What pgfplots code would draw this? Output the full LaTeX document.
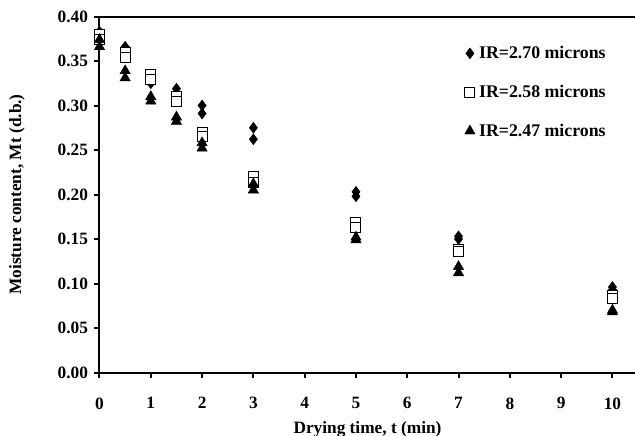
\documentclass[border=0pt]{standalone}
\usepackage{pgfplots}
\pgfplotsset{compat=1.18}
\usepackage{fontspec}
\setmainfont{Liberation Serif}

\newcommand{\chartfont}{\fontsize{17.3bp}{20bp}\selectfont\bfseries}
\newcommand{\legendfont}{\fontsize{17.8bp}{20bp}\selectfont\bfseries}

\begin{document}
\begin{tikzpicture}
  \begin{axis}[
    scale only axis,
    width=536bp,
    height=356bp,
    xmin=0, xmax=10.45,
    ymin=0, ymax=0.40,
    clip=false,
    axis x line*=bottom,
    axis y line*=left,
    axis line style={-, line width=2bp, black},
    xtick={0,1,2,3,4,5,6,7,8,9,10},
    ytick={0,0.05,0.10,0.15,0.20,0.25,0.30,0.35,0.40},
    tick align=outside,
    major tick length=5bp,
    tick style={line width=2bp, black},
    /pgf/number format/assume math mode=true,
    ticklabel style={font=\chartfont},
    xticklabel style={yshift=-16.5bp},
    yticklabel style={/pgf/number format/fixed, /pgf/number format/fixed zerofill,
      /pgf/number format/precision=2, xshift=-3bp},
    every axis x label/.style={at={(axis description cs:0.5,0)}, anchor=center, yshift=-56.5bp, font=\chartfont},
    every axis y label/.style={at={(axis description cs:0,0.5)}, xshift=-82.5bp, rotate=90, anchor=center, font=\chartfont},
    xlabel={Drying time, t (min)},
    ylabel={Moisture content, Mt (d.b.)},
    legend cell align=left,
    legend image code/.code={\draw[#1] plot coordinates {(0bp,0bp)};},
    legend style={draw=none, fill=none, inner sep=0pt, font=\legendfont,
      at={(rel axis cs:0.681,0.922)}, anchor=north west, row sep=21bp,
      /tikz/every odd column/.append style={column sep=2bp}},
  ]

    % IR = 2.70 microns
    \addplot[only marks, mark=diamond*, mark size=5.5bp, black, mark options={fill=black}] coordinates {
      (0,0.383) (0,0.378)
      (0.5,0.366) (0.5,0.362)
      (1,0.333) (1,0.325)
      (1.5,0.319) (1.5,0.313)
      (2,0.300) (2,0.291)
      (3,0.275) (3,0.262)
      (5,0.203) (5,0.198)
      (7,0.153) (7,0.150)
      (10,0.096) (10,0.093)
    };
    \addlegendentry{IR=2.70 microns}

    % IR = 2.58 microns
    \addplot[only marks, mark=square*, mark size=5bp, black, mark options={fill=white, line width=1bp}] coordinates {
      (0,0.380) (0,0.374)
      (0.5,0.360) (0.5,0.354)
      (1,0.335) (1,0.329)
      (1.5,0.310) (1.5,0.305)
      (2,0.270) (2,0.265)
      (3,0.220) (3,0.214)
      (5,0.169) (5,0.163)
      (7,0.138) (7,0.136)
      (10,0.087) (10,0.083)
    };
    \addlegendentry{IR=2.58 microns}

    % IR = 2.47 microns
    \addplot[only marks, mark=triangle*, mark size=6bp, black, mark options={fill=black}] coordinates {
      (0,0.374) (0,0.366)
      (0.5,0.339) (0.5,0.331)
      (1,0.310) (1,0.305)
      (1.5,0.287) (1.5,0.282)
      (2,0.258) (2,0.252)
      (3,0.212) (3,0.205)
      (5,0.152) (5,0.149)
      (7,0.119) (7,0.112)
      (10,0.070) (10,0.068)
    };
    \addlegendentry{IR=2.47 microns}

    \draw[line width=2bp, black] (rel axis cs:0,1) -- (rel axis cs:1,1);
  \end{axis}
  \pgfresetboundingbox
  \path[use as bounding box] (-99.5bp,-63.5bp) rectangle (535.5bp,372.5bp);
\end{tikzpicture}
\end{document}
